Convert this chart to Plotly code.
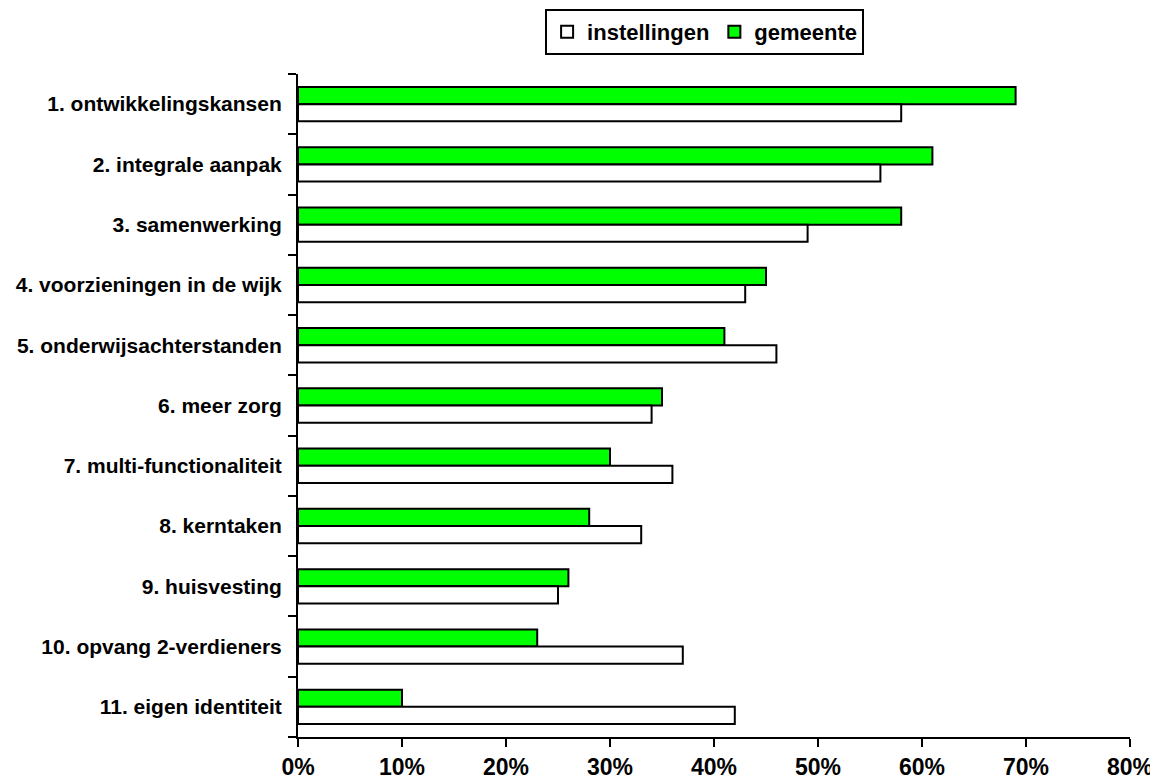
import plotly.graph_objects as go

categories = [
    "1. ontwikkelingskansen",
    "2. integrale aanpak",
    "3. samenwerking",
    "4. voorzieningen in de wijk",
    "5. onderwijsachterstanden",
    "6. meer zorg",
    "7. multi-functionaliteit",
    "8. kerntaken",
    "9. huisvesting",
    "10. opvang 2-verdieners",
    "11. eigen identiteit",
]
gemeente = [69, 61, 58, 45, 41, 35, 30, 28, 26, 23, 10]
instellingen = [58, 56, 49, 43, 46, 34, 36, 33, 25, 37, 42]
x_ticks = [0, 10, 20, 30, 40, 50, 60, 70, 80]

font_family = "Liberation Sans, Arial, sans-serif"

fig = go.Figure()
fig.add_trace(go.Bar(
    y=categories, x=gemeente, orientation="h", name="<b>gemeente</b>",
    marker=dict(color="#00FF00", line=dict(color="black", width=2)),
    legendrank=2,
))
fig.add_trace(go.Bar(
    y=categories, x=instellingen, orientation="h", name="<b>instellingen</b>",
    marker=dict(color="white", line=dict(color="black", width=2)),
    legendrank=1,
))

fig.update_layout(
    template="none",
    width=1150, height=776,
    paper_bgcolor="white", plot_bgcolor="white",
    barmode="group", bargap=0.43, bargroupgap=0,
    margin=dict(l=290, r=28, t=66, b=47, autoexpand=False),
    font=dict(family=font_family, color="black"),
    showlegend=True,
    legend=dict(
        orientation="h", x=0.297, y=1.098, xanchor="left", yanchor="top",
        bordercolor="black", borderwidth=2, bgcolor="white",
        font=dict(size=22, family=font_family, color="black"),
        itemwidth=30, tracegroupgap=0,
    ),
)
fig.update_xaxes(
    range=[0, 80], tickvals=x_ticks, ticktext=[f"<b>{v}%</b>" for v in x_ticks],
    showgrid=False, zeroline=False, automargin=False,
    showline=True, linecolor="black", linewidth=2,
    ticks="outside", ticklen=8, tickwidth=2, tickcolor="black",
    tickfont=dict(size=23, family=font_family, color="black"),
)
fig.update_yaxes(
    type="category", autorange="reversed",
    tickvals=categories, ticktext=[f"<b>{c}</b>" for c in categories],
    tickson="boundaries", automargin=False,
    showgrid=False, zeroline=False,
    showline=True, linecolor="black", linewidth=2,
    ticks="outside", ticklen=8, tickwidth=2, tickcolor="black",
    ticklabelstandoff=10,
    tickfont=dict(size=21, family=font_family, color="black"),
)

fig.write_html("out.html")
